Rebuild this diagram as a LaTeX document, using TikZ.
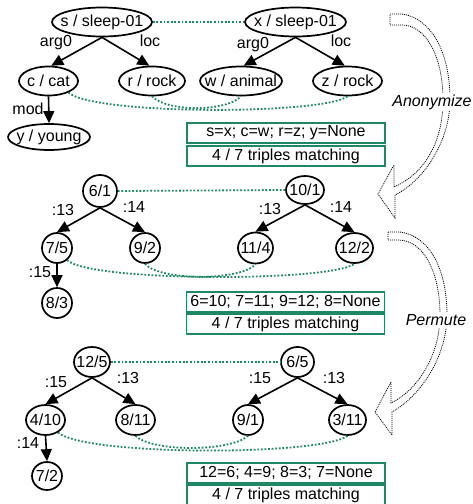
\documentclass[tikz,border=0pt]{standalone}
\usepackage{fontspec}
\setmainfont{Liberation Sans}
\usetikzlibrary{shapes.geometric,arrows.meta}
\definecolor{mgreen}{RGB}{30,135,100}
\newcommand{\zw}[1]{\makebox[0pt]{#1}}
\begin{document}
\begin{tikzpicture}[x=1pt,y=-1pt,
  every node/.style={font=\fontsize{16pt}{19pt}\selectfont},
  amr/.style={draw, ellipse, line width=1.7pt, inner sep=0pt, minimum height=29pt, minimum width=#1},
  edge/.style={line width=1.6pt, -{Triangle[length=12pt,width=11pt]}},
  elab/.style={inner sep=0pt},
  match/.style={mgreen, line width=1.8pt, dash pattern=on 1.8pt off 1.8pt},
  mbox/.style={draw=mgreen, line width=1.6pt, minimum width=198pt, minimum height=20pt, inner sep=0pt},
  hollow/.style={line width=0.8pt, dash pattern=on 1pt off 1pt},
  steplab/.style={font=\fontsize{16pt}{19pt}\selectfont\itshape, fill=white, inner sep=2pt}
]
\useasboundingbox (0,0) rectangle (473,504);

% ---------- top: AMR graphs ----------
\node[amr=100pt] (s) at (102,22) {\zw{s / sleep-01}};
\node[amr=101pt] (x) at (295.5,22) {\zw{x / sleep-01}};
\node[amr=59pt] (c) at (48.5,81) {\zw{c / cat}};
\node[amr=66pt] (r) at (152,81) {\zw{r / rock}};
\node[amr=82pt] (w) at (241,81) {\zw{w / animal}};
\node[amr=69pt] (z) at (347.5,81) {\zw{z / rock}};
\node[amr=82pt, minimum height=26pt] (y) at (49,137) {\zw{y / young}};

\draw[edge] (s.south) -- (c.80);
\draw[edge] (s.south) -- (r.100);
\draw[edge] (c.south) -- (y.north);
\draw[edge] (x.south) -- (w.80);
\draw[edge] (x.south) -- (z.100);

\node[elab] (la1) at (56,43) {arg0};
\node[elab] (la2) at (150,41) {loc};
\node[elab] (la3) at (28,109) {mod};
\node[elab] (la4) at (253,45) {arg0};
\node[elab] (la5) at (341,41) {loc};

\draw[match] (s.east) -- (x.west);
\draw[match] (c.-30) .. controls (93,115) and (322,115) .. (z.south);
\draw[match] (r.south) .. controls (167,112) and (226,112) .. (w.south);

\node[mbox] (b1a) at (286,133) {s=x; c=w; r=z; y=None};
\node[mbox] (b1b) at (286,156) {4 / 7 triples matching};

% ---------- middle ----------
\node[amr=34pt, minimum height=32pt] (m61) at (100,191) {\zw{6/1}};
\node[amr=38pt, minimum height=28pt] (m101) at (305,190) {\zw{10/1}};
\node[amr=30pt, minimum height=30pt] (m75) at (57,248) {\zw{7/5}};
\node[amr=30pt, minimum height=30pt] (m92) at (145,248) {\zw{9/2}};
\node[amr=35pt, minimum height=31pt] (m114) at (255.5,248) {\zw{11/4}};
\node[amr=37pt, minimum height=30pt] (m122) at (354.5,248) {\zw{12/2}};
\node[amr=30pt, minimum height=30pt] (m83) at (57,303) {\zw{8/3}};

\draw[edge] (m61.south) -- (m75.north);
\draw[edge] (m61.south) -- (m92.north);
\draw[edge] (m75.south) -- (m83.north);
\draw[edge] (m101.south) -- (m114.north);
\draw[edge] (m101.south) -- (m122.north);

\node[elab] (lm1) at (63,210) {:13};
\node[elab] (lm2) at (134,207) {:14};
\node[elab] (lm3) at (40,272) {:15};
\node[elab] (lm4) at (270,209) {:13};
\node[elab] (lm5) at (341,207) {:14};

\draw[match] (m61.east) -- (m101.west);
\draw[match] (m75.-50) .. controls (90,282) and (330,282) .. (m122.south);
\draw[match] (m92.south) .. controls (160,281) and (240,281) .. (m114.south);

\node[mbox] (b2a) at (285.5,302) {6=10; 7=11; 9=12; 8=None};
\node[mbox] (b2b) at (285.5,324) {4 / 7 triples matching};

% ---------- bottom ----------
\node[amr=36pt, minimum height=30pt] (b125) at (92,362) {\zw{12/5}};
\node[amr=33pt, minimum height=30pt] (b65) at (297.5,362) {\zw{6/5}};
\node[amr=39pt, minimum height=30pt] (b410) at (45.5,420) {\zw{4/10}};
\node[amr=39pt, minimum height=30pt] (b811) at (135.5,420) {\zw{8/11}};
\node[amr=30pt, minimum height=30pt] (b91) at (248,420) {\zw{9/1}};
\node[amr=37pt, minimum height=30pt] (b311) at (347.5,420) {\zw{3/11}};
\node[amr=30pt, minimum height=28pt] (b72) at (47,476) {\zw{7/2}};

\draw[edge] (b125.south) -- (b410.north);
\draw[edge] (b125.south) -- (b811.north);
\draw[edge] (b410.south) -- (b72.north);
\draw[edge] (b65.south) -- (b91.north);
\draw[edge] (b65.south) -- (b311.north);

\node[elab] (lb1) at (56,382) {:15};
\node[elab] (lb2) at (128,378) {:13};
\node[elab] (lb3) at (28,443) {:14};
\node[elab] (lb4) at (260,378) {:15};
\node[elab] (lb5) at (334,378) {:13};

\draw[match] (b125.east) -- (b65.west);
\draw[match] (b410.-45) .. controls (85,456) and (320,456) .. (b311.south);
\draw[match] (b811.south) .. controls (152,452) and (230,452) .. (b91.south);

\node[mbox] (b3a) at (286,473) {12=6; 4=9; 8=3; 7=None};
\node[mbox] (b3b) at (286,495) {4 / 7 triples matching};

% ---------- hollow curved arrows ----------
\draw[hollow] (390,14) -- (402,14) .. controls (430,18) and (450,50) .. (450,100)
  .. controls (450,140) and (425,180) .. (395,195) -- (395,218) -- (378,194) -- (394,165)
  -- (394,187) .. controls (422,175) and (443,145) .. (443,100)
  .. controls (443,55) and (425,25) .. (402,25) -- (390,25) -- cycle;
\node[steplab] (anon) at (432,102) {Anonymize};

\draw[hollow] (388,232) -- (400,232) .. controls (430,236) and (447,270) .. (447,315)
  .. controls (447,355) and (422,395) .. (392,412) -- (392,435) -- (375,412) -- (391,382)
  -- (391,403) .. controls (418,390) and (440,355) .. (440,315)
  .. controls (440,275) and (425,240) .. (398,240) -- (388,240) -- cycle;
\node[steplab] (perm) at (436,320) {Permute};
\end{tikzpicture}
\end{document}
